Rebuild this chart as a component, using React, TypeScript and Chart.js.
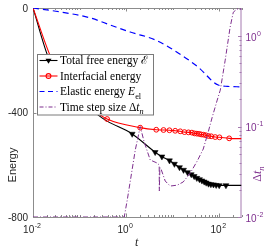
import React, { useEffect, useRef } from "react";
import { Chart, registerables } from "chart.js";

Chart.register(...registerables);

// ---- Data ----
const totalT = [0.01, 0.0224, 0.05, 0.1, 0.252, 0.39, 1.35, 4.2, 5.86, 8.53, 10.9, 14.0, 17.1, 20.8, 25.0, 28.9, 33.0, 37.6, 42.4, 47.4, 52.4, 58.7, 66, 75.1, 85.8, 99.5, 139, 300];
const totalE = [0, -199, -290, -345, -410, -433, -482, -552, -569, -584, -597, -610, -620, -629, -637, -644, -651, -656, -661, -665, -669, -673, -675, -676, -678, -679, -679, -679];

const interT = [0.01, 0.0256, 0.05, 0.1, 0.2, 0.39, 2.0, 4.43, 6.35, 8.5, 11.3, 14.5, 17.9, 21.8, 25.8, 29.4, 33, 37, 41, 45.8, 51.6, 58.6, 67, 81.7, 101, 163, 300];
const interE = [0, -199, -280, -335, -390, -425, -458, -466, -467, -468, -470, -472, -475, -476, -477, -480, -481, -482, -484, -485, -487, -490, -491, -494, -495, -499, -500];

const elasT = [0.01, 0.0386, 0.17, 0.456, 1.22, 4.2, 13.1, 35, 95, 150, 300];
const elasE = [0, -15, -38, -65, -92, -122, -172, -226, -295, -300, -302];

const stepT = [0.01, 0.91, 1.056, 1.57, 2.01, 2.44, 3.29, 4.65, 5.13, 5.16, 5.3, 5.52, 6.9, 8.84, 12.5, 16.8, 23.8, 33.6, 45.2, 57.8, 70.5, 90.2, 105, 134, 171, 200, 240, 300];
const stepDt = [0.01, 0.01, 0.0154, 0.055, 0.1, 0.0675, 0.0427, 0.0395, 0.0376, 0.0194, 0.035, 0.0348, 0.025, 0.022, 0.0225, 0.0244, 0.0306, 0.0416, 0.0564, 0.0869, 0.127, 0.196, 0.253, 0.543, 1.26, 1.84, 2.0, 2.0];

const energyTicks = [-800, -400, 0];
const energyTickLabels = ["-800", "-400", "0"];
const timeTicks = [0.01, 1, 100];
const timeTickExps = ["-2", "0", "2"];
const stepTicks = [0.01, 0.1, 1];
const stepTickExps = ["-2", "-1", "0"];

const PURPLE = "#7E2F8E";
const SANS = "'Liberation Sans', Arial, Helvetica, sans-serif";
const SERIF = "'Liberation Serif', 'Times New Roman', serif";

type Run = { t: string; it?: boolean; sub?: boolean };

function drawRuns(ctx: CanvasRenderingContext2D, x: number, y: number, runs: Run[], size: number, family: string) {
  let cx = x;
  for (const r of runs) {
    const s = r.sub ? size * 0.72 : size;
    ctx.font = `${r.it ? "italic " : ""}${s}px ${family}`;
    ctx.fillText(r.t, cx, r.sub ? y + size * 0.28 : y);
    cx += ctx.measureText(r.t).width;
  }
  return cx - x;
}

function measureRuns(ctx: CanvasRenderingContext2D, runs: Run[], size: number, family: string) {
  let w = 0;
  for (const r of runs) {
    const s = r.sub ? size * 0.72 : size;
    ctx.font = `${r.it ? "italic " : ""}${s}px ${family}`;
    w += ctx.measureText(r.t).width;
  }
  return w;
}

function powLabel(ctx: CanvasRenderingContext2D, x: number, baseline: number, exp: string, align: "center" | "left", color: string) {
  ctx.fillStyle = color;
  ctx.textBaseline = "alphabetic";
  ctx.textAlign = "left";
  ctx.font = `10px ${SANS}`;
  const wb = ctx.measureText("10").width;
  ctx.font = `7px ${SANS}`;
  const we = ctx.measureText(exp).width;
  const total = wb + we + 0.5;
  const sx = align === "center" ? x - total / 2 : x;
  ctx.font = `10px ${SANS}`;
  ctx.fillText("10", sx, baseline);
  ctx.font = `7px ${SANS}`;
  ctx.fillText(exp, sx + wb + 0.5, baseline - 5);
}

const minorsOf = (lo: number, hi: number) => {
  const out: number[] = [];
  for (let d = lo; d < hi; d *= 10) for (let k = 1; k < 10; k++) out.push(d * k);
  return out;
};

const axesPlugin = {
  id: "axesPlugin",
  beforeDatasetsDraw(chart: any) {
    const { ctx, chartArea: a, scales } = chart;
    const { x, y, y2 } = scales;
    ctx.save();
    ctx.lineWidth = 1;
    // box (left, bottom, top in gray)
    ctx.strokeStyle = "#8c8c8c";
    ctx.beginPath();
    ctx.moveTo(a.left + 0.5, a.top);
    ctx.lineTo(a.left + 0.5, a.bottom + 0.5);
    ctx.lineTo(a.right, a.bottom + 0.5);
    ctx.moveTo(a.left, a.top + 0.5);
    ctx.lineTo(a.right, a.top + 0.5);
    ctx.stroke();
    // x ticks (bottom & top, inward)
    ctx.beginPath();
    for (const v of minorsOf(0.01, 1000)) {
      if (v < 0.01 || v > 300) continue;
      const px = Math.round(x.getPixelForValue(v)) + 0.5;
      const major = timeTicks.includes(v);
      const len = major ? 3.5 : 2;
      ctx.moveTo(px, a.bottom);
      ctx.lineTo(px, a.bottom - len);
      ctx.moveTo(px, a.top);
      ctx.lineTo(px, a.top + len);
    }
    // left ticks
    for (const v of energyTicks) {
      const py = Math.round(y.getPixelForValue(v)) + 0.5;
      ctx.moveTo(a.left, py);
      ctx.lineTo(a.left + 3.5, py);
    }
    ctx.stroke();
    // right axis (purple)
    ctx.strokeStyle = "#a57bb0";
    ctx.beginPath();
    ctx.moveTo(a.right - 0.5, a.top);
    ctx.lineTo(a.right - 0.5, a.bottom + 0.5);
    for (const v of minorsOf(0.01, 10)) {
      if (v > 2.05) continue;
      const py = Math.round(y2.getPixelForValue(v)) + 0.5;
      const major = stepTicks.includes(v);
      const len = major ? 3.5 : 2;
      ctx.moveTo(a.right, py);
      ctx.lineTo(a.right - len, py);
    }
    ctx.stroke();

    // tick labels
    ctx.fillStyle = "#262626";
    ctx.font = `10px ${SANS}`;
    ctx.textAlign = "right";
    ctx.textBaseline = "alphabetic";
    energyTicks.forEach((v, i) => {
      const py = y.getPixelForValue(v);
      ctx.fillText(energyTickLabels[i], a.left - 5, py + 3.8);
    });
    timeTicks.forEach((v, i) => {
      const px = x.getPixelForValue(v);
      powLabel(ctx, px - 1, a.bottom + 16, timeTickExps[i], "center", "#262626");
    });
    stepTicks.forEach((v, i) => {
      const py = y2.getPixelForValue(v);
      powLabel(ctx, a.right + 4, py + 4.5, stepTickExps[i], "left", PURPLE);
    });

    // axis titles
    ctx.fillStyle = "#262626";
    ctx.save();
    ctx.translate(16, 165);
    ctx.rotate(-Math.PI / 2);
    ctx.textAlign = "center";
    ctx.font = `11px ${SANS}`;
    ctx.fillText("Energy", 0, 0);
    ctx.restore();

    ctx.textAlign = "left";
    ctx.font = `italic 12px ${SERIF}`;
    ctx.fillText("t", 135, 246);

    ctx.save();
    ctx.fillStyle = PURPLE;
    ctx.translate(261, 174);
    ctx.rotate(-Math.PI / 2);
    const r: Run[] = [{ t: "Δ" }, { t: "t", it: true }, { t: "n", it: true, sub: true }];
    const w = measureRuns(ctx, r, 12, SERIF);
    drawRuns(ctx, -w / 2, 0, r, 12, SERIF);
    ctx.restore();
    ctx.restore();
  },
  afterDatasetsDraw(chart: any) {
    const { ctx } = chart;
    ctx.save();
    const bx = 37.5, by = 54.5, bw = 116, bh = 60.5;
    ctx.fillStyle = "#ffffff";
    ctx.fillRect(bx, by, bw, bh);
    ctx.strokeStyle = "#7a7a7a";
    ctx.lineWidth = 1;
    ctx.strokeRect(bx, by, bw, bh);
    const rows: { color: string; dash: number[]; marker: string; runs: Run[] }[] = [
      { color: "#000000", dash: [], marker: "tri", runs: [{ t: "Total free energy " }, { t: "ℰ" }] },
      { color: "#ff0000", dash: [], marker: "circ", runs: [{ t: "Interfacial energy" }] },
      { color: "#0000ff", dash: [5, 3.5], marker: "", runs: [{ t: "Elastic energy " }, { t: "E", it: true }, { t: "el", sub: true }] },
      { color: PURPLE, dash: [4, 2, 1, 2], marker: "", runs: [{ t: "Time step size Δ" }, { t: "t", it: true }, { t: "n", it: true, sub: true }] },
    ];
    const rowY = [60.5, 76, 91.5, 107];
    rows.forEach((row, i) => {
      const yy = rowY[i];
      ctx.strokeStyle = row.color;
      ctx.lineWidth = 1.1;
      ctx.setLineDash(row.dash);
      ctx.beginPath();
      ctx.moveTo(39.5, yy);
      ctx.lineTo(57.5, yy);
      ctx.stroke();
      ctx.setLineDash([]);
      if (row.marker === "tri") {
        ctx.fillStyle = "#000";
        ctx.beginPath();
        ctx.moveTo(48.5 - 3, yy - 1.7);
        ctx.lineTo(48.5 + 3, yy - 1.7);
        ctx.lineTo(48.5, yy + 3.3);
        ctx.closePath();
        ctx.fill();
      } else if (row.marker === "circ") {
        ctx.beginPath();
        ctx.arc(48.5, yy, 2.4, 0, Math.PI * 2);
        ctx.stroke();
      }
      ctx.fillStyle = "#000";
      ctx.textAlign = "left";
      ctx.textBaseline = "alphabetic";
      drawRuns(ctx, 60, yy + 3.8, row.runs, 11.5, SERIF);
    });
    ctx.restore();
  },
};

const pts = (xs: number[], ys: number[]) => xs.map((v, i) => ({ x: v, y: ys[i] }));

export default function App() {
  const ref = useRef<HTMLCanvasElement | null>(null);
  useEffect(() => {
    document.body.style.margin = "0";
    if (!ref.current) return;
    const chart = new Chart(ref.current, {
      type: "line",
      data: {
        datasets: [
          {
            data: pts(elasT, elasE),
            yAxisID: "y",
            borderColor: "#0000ff",
            borderWidth: 1.2,
            borderDash: [6, 4],
            pointRadius: 0,
            cubicInterpolationMode: "monotone",
          },
          {
            data: pts(stepT, stepDt),
            yAxisID: "y2",
            borderColor: PURPLE,
            borderWidth: 1,
            borderDash: [5, 2, 1, 2],
            pointRadius: 0,
            tension: 0,
          },
          {
            data: pts(interT, interE),
            yAxisID: "y",
            borderColor: "#ff0000",
            borderWidth: 1.1,
            pointStyle: "circle",
            pointRadius: (c: any) => (c.raw && c.raw.x >= 0.3 && c.raw.x <= 200 ? 2.4 : 0),
            pointBorderColor: "#ff0000",
            pointBackgroundColor: "rgba(255,255,255,0)",
            pointBorderWidth: 1,
            cubicInterpolationMode: "monotone",
          },
          {
            data: pts(totalT, totalE),
            yAxisID: "y",
            borderColor: "#000000",
            borderWidth: 1.1,
            pointStyle: "triangle",
            pointRotation: 180,
            pointRadius: (c: any) => (c.raw && c.raw.x >= 1 && c.raw.x <= 200 ? 3.4 : 0),
            pointBorderColor: "#000000",
            pointBackgroundColor: "#000000",
            pointBorderWidth: 0.5,
            cubicInterpolationMode: "monotone",
          },
        ] as any,
      },
      options: {
        responsive: false,
        animation: false,
        events: [],
        layout: { padding: { top: 8, left: 0, right: 0, bottom: 0 } },
        plugins: { legend: { display: false }, tooltip: { enabled: false } },
        scales: {
          x: {
            type: "logarithmic",
            min: 0.01,
            max: 300,
            grid: { display: false },
            border: { display: false },
            ticks: { display: false },
            afterFit: (s: any) => { s.height = 32; },
          },
          y: {
            type: "linear",
            position: "left",
            min: -800,
            max: 0,
            grid: { display: false },
            border: { display: false },
            ticks: { display: false },
            afterFit: (s: any) => { s.width = 33; },
          },
          y2: {
            type: "logarithmic",
            position: "right",
            min: 0.01,
            max: 2.05,
            grid: { display: false },
            border: { display: false },
            ticks: { display: false },
            afterFit: (s: any) => { s.width = 28.5; },
          },
        },
      } as any,
      plugins: [axesPlugin],
    });
    return () => chart.destroy();
  }, []);
  return (
    <div style={{ width: 270, height: 249 }}>
      <canvas ref={ref} width={270} height={249} style={{ display: "block", width: 270, height: 249 }} />
    </div>
  );
}
